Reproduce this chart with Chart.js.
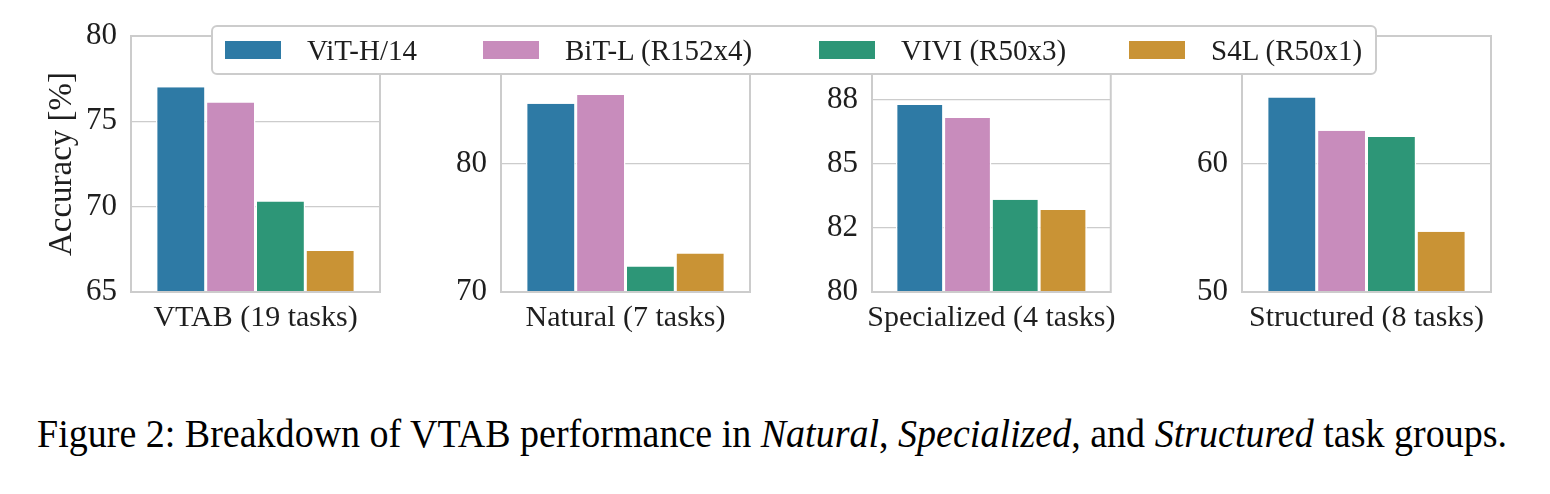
<!DOCTYPE html>
<html>
<head>
<meta charset="utf-8">
<script src="https://cdn.jsdelivr.net/npm/chart.js@4.4.1/dist/chart.umd.min.js"></script>
<style>
  html, body { margin: 0; padding: 0; background: #ffffff; }
  body { width: 1550px; height: 494px; position: relative; overflow: hidden; font-family: 'Liberation Serif', 'Times New Roman', serif; }
  .panel { position: absolute; top: 0; width: 385px; height: 345px; }
  #legend { position: absolute; left: 211px; top: 25px; width: 1166px; height: 50px; box-sizing: border-box;
            border: 2px solid #cccccc; border-radius: 6px; background: #ffffff;
            color: #1e1e1e; font-size: 29px; }
  .item { position: absolute; top: 0; height: 46px; display: flex; align-items: center; white-space: nowrap; }
  .patch { width: 56px; height: 18px; margin-right: 26px; }
  #caption { position: absolute; left: 37px; top: 414px; font-size: 40px; line-height: 40px; color: #000; white-space: nowrap; transform-origin: 0 0; }
</style>
</head>
<body>
<div class="panel" style="left:0px"><canvas id="c0" width="385" height="345"></canvas></div>
<div class="panel" style="left:370px"><canvas id="c1" width="385" height="345"></canvas></div>
<div class="panel" style="left:741px"><canvas id="c2" width="385" height="345"></canvas></div>
<div class="panel" style="left:1111px"><canvas id="c3" width="385" height="345"></canvas></div>
<div id="legend"></div>
<div id="caption">Figure 2: Breakdown of VTAB performance in <i>Natural</i>, <i>Specialized</i>, and <i>Structured</i> task groups.</div>
<script>
// ---- data ----
const categories = ['VTAB (19 tasks)', 'Natural (7 tasks)', 'Specialized (4 tasks)', 'Structured (8 tasks)'];
const models = ['ViT-H/14', 'BiT-L (R152x4)', 'VIVI (R50x3)', 'S4L (R50x1)'];
const vitH14 = [77.0, 84.7, 87.3, 65.2];
const bitL   = [76.1, 85.4, 86.8, 62.6];
const vivi   = [70.3, 72.0, 83.6, 62.1];
const s4l    = [67.4, 73.0, 83.2, 54.7];
const yMin = [65, 70, 80, 50];
const yMax = [80, 90, 90, 70];
const tickValues = [[65, 70, 75, 80], [70, 80], [80, 82.5, 85, 87.5], [50, 60]];
const tickLabels = [['65', '70', '75', '80'], ['70', '80'], ['80', '82', '85', '88'], ['50', '60']];
const yTitle = 'Accuracy [%]';

// ---- styles ----
const colors = ['#2e7aa5', '#c88cbc', '#2d9677', '#c99335'];
const legendOffsets = [12, 270, 606, 916];
const seriesValues = [vitH14, bitL, vivi, s4l];
const TEXT = '#1e1e1e';
Chart.defaults.font.family = "'Liberation Serif', 'Times New Roman', serif";
Chart.defaults.color = TEXT;

const framePlugin = {
  id: 'frame',
  afterDatasetsDraw(chart) {
    const a = chart.chartArea, ctx = chart.ctx;
    ctx.save();
    ctx.strokeStyle = '#cccccc';
    ctx.lineWidth = 2;
    ctx.strokeRect(a.left, a.top, a.right - a.left, a.bottom - a.top);
    ctx.restore();
  }
};

categories.forEach((cat, p) => {
  new Chart(document.getElementById('c' + p), {
    type: 'bar',
    data: {
      labels: [cat],
      datasets: models.map((m, i) => ({
        label: m,
        data: [seriesValues[i][p]],
        backgroundColor: colors[i],
        borderColor: '#ffffff',
        borderWidth: { top: 0, bottom: 0, left: 1.5, right: 1.5 },
        borderSkipped: false
      }))
    },
    options: {
      responsive: false,
      animation: false,
      devicePixelRatio: 1,
      layout: { padding: { top: 36, right: 5, bottom: 0, left: 0 } },
      plugins: { legend: { display: false }, tooltip: { enabled: false } },
      datasets: { bar: { categoryPercentage: 0.8, barPercentage: 1.0 } },
      scales: {
        x: {
          grid: { display: false, drawTicks: false },
          border: { display: false },
          ticks: { font: { size: 30 }, color: TEXT, padding: 8, maxRotation: 0 },
          afterFit: s => { s.height = 53; }
        },
        y: {
          min: yMin[p], max: yMax[p],
          beginAtZero: false,
          grid: { color: '#cccccc', lineWidth: 1.3, drawTicks: false },
          border: { display: false },
          afterBuildTicks: s => { s.ticks = tickValues[p].map(v => ({ value: v })); },
          ticks: {
            font: { size: 31 }, color: TEXT, padding: 14,
            callback: (v, idx) => tickLabels[p][idx]
          },
          title: {
            display: p === 0, text: yTitle, color: TEXT,
            font: { size: 33 }, padding: { top: 43, bottom: 0 }
          },
          afterFit: s => { s.width = 131; }
        }
      }
    },
    plugins: [framePlugin]
  });
});

// ---- legend (HTML) ----
const lg = document.getElementById('legend');
models.forEach((m, i) => {
  const it = document.createElement('div'); it.className = 'item'; it.style.left = legendOffsets[i] + 'px';
  const pt = document.createElement('div'); pt.className = 'patch'; pt.style.background = colors[i];
  const tx = document.createElement('span'); tx.textContent = m;
  it.appendChild(pt); it.appendChild(tx); lg.appendChild(it);
});

// ---- caption width fit ----
const cap = document.getElementById('caption');
const w = cap.getBoundingClientRect().width;
cap.style.transform = 'scaleX(' + (1470 / w) + ')';
</script>
</body>
</html>
